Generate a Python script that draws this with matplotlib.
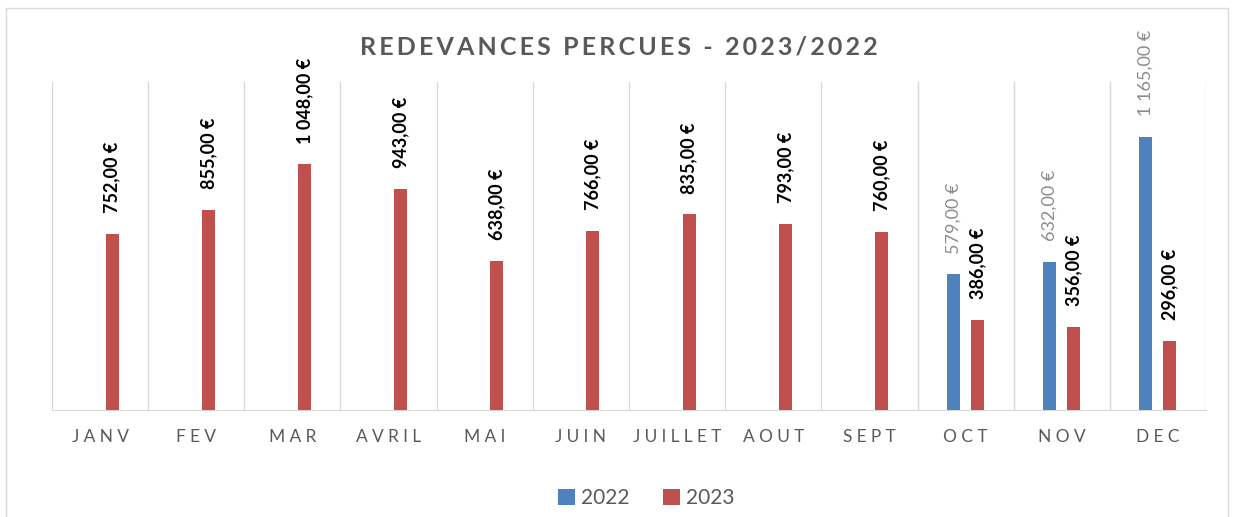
import numpy as np
import matplotlib.pyplot as plt
from matplotlib.patches import Rectangle

plt.rcParams['font.family'] = ['Lato', 'DejaVu Sans']

mois = ['JANV', 'FEV', 'MAR', 'AVRIL', 'MAI', 'JUIN', 'JUILLET', 'AOUT', 'SEPT', 'OCT', 'NOV', 'DEC']
v2022 = [np.nan] * 9 + [579, 632, 1165]
v2023 = [752, 855, 1048, 943, 638, 766, 835, 793, 760, 386, 356, 296]

blue = '#4f81bd'
red = '#c0504d'
grey = '#595959'
THIN = '\u2009'


def spaced(s, n=1):
    return (THIN * n).join(s)


def euro(v):
    s = f"{v:,.2f}".replace(',', ' ').replace('.', ',')
    return s + ' €'


fig = plt.figure(figsize=(12.38, 5.17), dpi=100)
fig.patches.append(Rectangle((6 / 1238, -0.1), 1222 / 1238, 1.1 - 8 / 517,
                             transform=fig.transFigure, fill=False,
                             edgecolor='#d9d9d9', lw=1))
ax = fig.add_axes([52 / 1238, 1 - 410 / 517, 1154 / 1238, 328 / 517])

x = np.arange(len(mois))
w = 0.135
off = 0.125
ax.bar(x - off, v2022, w, color=blue, label='2022', zorder=3)
ax.bar(x + off, v2023, w, color=red, label='2023', zorder=3)

for i, v in enumerate(v2022):
    if not np.isnan(v):
        ax.annotate(euro(v), (x[i] - off, v), xytext=(0, 15), textcoords='offset points',
                    rotation=90, ha='center', va='bottom', fontsize=13, color='#8c8c8c')
for i, v in enumerate(v2023):
    ax.annotate(euro(v), (x[i] + off, v), xytext=(0, 15), textcoords='offset points',
                rotation=90, ha='center', va='bottom', fontsize=13, color='black',
                fontweight='bold')

ax.set_xlim(-0.5, len(mois) - 0.5)
ax.set_ylim(0, 1400)
for b in np.arange(-0.5, len(mois), 1):
    ax.axvline(b, color='#d9d9d9', lw=1, zorder=1)
for s in ['top', 'left', 'right']:
    ax.spines[s].set_visible(False)
ax.spines['bottom'].set_color('#d9d9d9')
ax.set_yticks([])
ax.set_xticks(x)
ax.set_xticklabels([spaced(m, 2) for m in mois], fontsize=12.5, color=grey)
ax.tick_params(axis='x', length=0, pad=14)

fig.text(0.5, 1 - 47 / 517, spaced('REDEVANCES PERCUES - 2023/2022', 1), ha='center', va='center',
         fontsize=18, fontweight='bold', color=grey)

fig.legend(loc='center', bbox_to_anchor=(0.522, 1 - 498 / 517), ncol=2, frameon=False,
           fontsize=15, handlelength=0.8, handleheight=0.8, handletextpad=0.3,
           columnspacing=1.6, labelcolor=grey)

fig.savefig('out.png', dpi=100)
